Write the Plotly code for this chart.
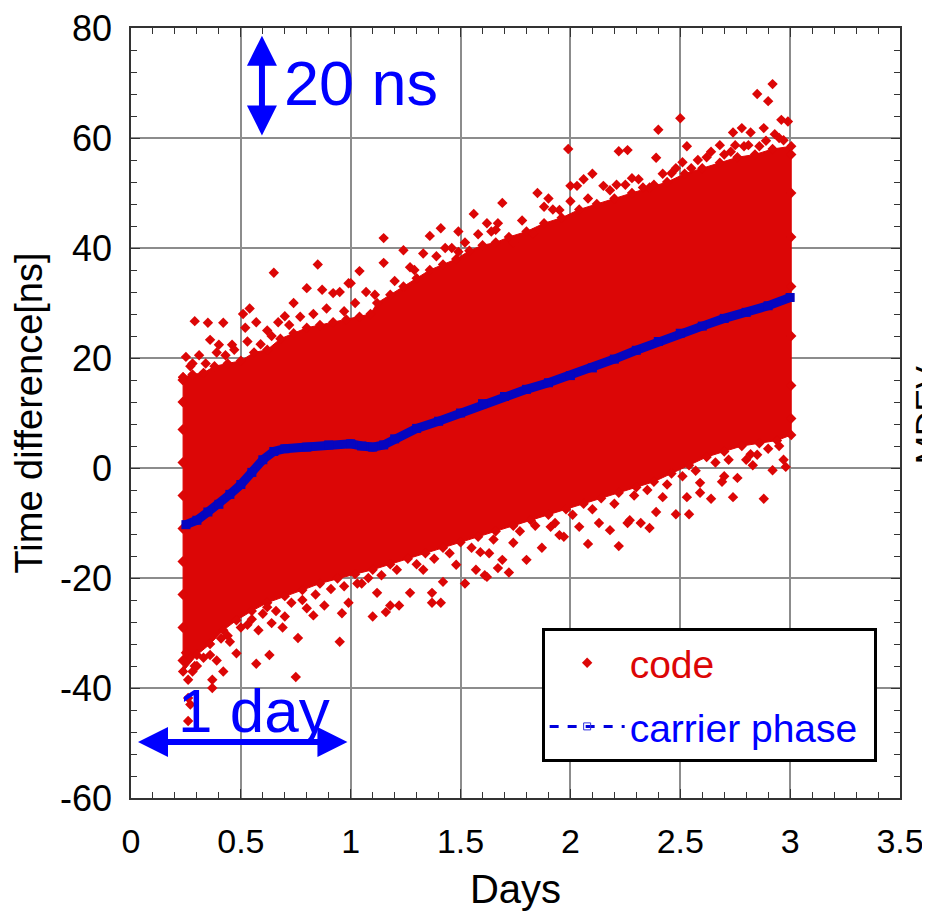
import plotly.graph_objects as go

# ---------------- data ----------------
# carrier phase curve (days, ns)
cp_days = [0.25, 0.30, 0.35, 0.40, 0.45, 0.50, 0.55, 0.60, 0.65, 0.70, 0.80, 0.90,
           1.00, 1.05, 1.10, 1.15, 1.20, 1.30, 1.40, 1.50, 1.60, 1.70, 1.80, 1.90,
           2.00, 2.10, 2.20, 2.30, 2.40, 2.50, 2.60, 2.70, 2.80, 2.90, 3.00]
cp_ns = [-10.3, -9.5, -8.0, -6.6, -4.8, -3.0, -0.8, 1.5, 3.0, 3.5, 3.8, 4.2,
         4.4, 4.0, 3.8, 4.2, 5.3, 7.2, 8.5, 10.0, 11.7, 13.0, 14.3, 15.5,
         16.8, 18.2, 19.8, 21.4, 23.0, 24.5, 25.8, 27.2, 28.3, 29.5, 31.0]

# code: outline of the dense cloud of points (upper edge, left to right)
code_up_days = [0.237, 0.28, 0.33, 0.38, 0.44, 0.50, 0.56, 0.62, 0.68, 0.74, 0.80, 0.86,
                0.92, 0.98, 1.04, 1.09, 1.12, 1.18, 1.24, 1.30, 1.36, 1.42, 1.48, 1.54,
                1.60, 1.66, 1.72, 1.80, 1.88, 1.96, 2.04, 2.12, 2.20, 2.28, 2.36, 2.44,
                2.52, 2.60, 2.68, 2.76, 2.84, 2.92, 3.005]
code_up_ns = [16.5, 17.0, 17.3, 18.5, 19.0, 19.5, 21.0, 21.5, 23.5, 24.5, 25.5, 26.0,
              26.5, 27.0, 27.5, 28.0, 30.0, 31.5, 33.0, 34.5, 36.0, 37.0, 38.0, 39.5,
              40.5, 41.0, 42.0, 43.0, 44.5, 45.5, 47.0, 48.0, 49.0, 50.0, 51.0, 52.0,
              53.5, 54.5, 55.5, 56.5, 57.0, 58.0, 58.5]
# lower edge, right to left
code_lo_days = [3.005, 2.94, 2.86, 2.78, 2.70, 2.62, 2.54, 2.46, 2.38, 2.30, 2.22, 2.14,
                2.06, 1.98, 1.90, 1.82, 1.74, 1.66, 1.58, 1.50, 1.42, 1.34, 1.26, 1.18,
                1.10, 1.02, 0.94, 0.86, 0.78, 0.70, 0.62, 0.55, 0.48, 0.42, 0.36, 0.30, 0.237]
code_lo_ns = [6.0, 5.0, 4.5, 4.0, 3.0, 2.0, 0.5, -1.0, -2.5, -3.5, -4.5, -5.5,
              -6.5, -7.5, -8.5, -9.5, -10.5, -11.5, -12.5, -13.5, -14.5, -15.5, -16.5, -17.5,
              -18.5, -19.3, -20.1, -21.0, -22.2, -23.3, -24.5, -26.0, -27.7, -29.5, -32.0, -34.0, -37.0]

# code: individual scattered points around the cloud
code_pt_days = [
    # upper outliers
    0.29, 0.35, 0.42, 0.51, 0.54, 0.65, 0.85, 1.04, 1.15, 1.36, 1.41, 1.49, 1.56, 1.62,
    1.69, 1.85, 1.90, 1.99, 2.00, 2.06, 2.10, 2.22, 2.26, 2.28, 2.39, 2.40, 2.50, 2.53,
    2.68, 2.74, 2.78, 2.82, 2.85, 2.88, 2.90, 2.92, 2.96, 2.99,
    # upper edge
    0.25, 0.28, 0.36, 0.40, 0.46, 0.52, 0.57, 0.62, 0.70, 0.74, 0.80, 0.87, 0.92, 0.95,
    0.99, 1.07, 1.15, 1.24, 1.27, 1.00, 1.33, 1.43, 1.49, 1.66, 1.67, 1.74, 1.83, 1.88,
    1.95, 2.03, 2.15, 2.21, 2.33, 2.38, 2.46, 2.51, 2.55, 2.64, 2.70, 2.75, 2.81, 2.86,
    2.93, 2.97,
    # upper edge, inner ring
    0.27, 0.31, 0.34, 0.39, 0.43, 0.47, 0.53, 0.59, 0.64, 0.67, 0.72, 0.77, 0.83, 0.89,
    0.97, 1.02, 1.11, 1.20, 1.29, 1.39, 1.46, 1.52, 1.58, 1.64, 1.78, 1.92, 2.00, 2.08,
    2.18, 2.25, 2.31, 2.42, 2.48, 2.58, 2.62, 2.73, 2.79, 2.89, 2.95,
    # lower outliers
    0.26, 0.27, 0.26, 0.37, 0.37, 0.42, 0.48, 0.57, 0.63, 0.75, 0.76, 0.95, 0.69, 0.58,
    0.83, 0.96, 1.10, 1.16, 1.22, 1.37, 1.41, 1.37, 1.52, 1.61, 1.62, 1.57, 1.72, 1.67,
    1.80, 1.87, 1.95, 2.08, 2.22, 2.27, 2.36, 2.48, 2.54, 2.59, 2.64, 2.74, 2.88, 2.92,
    2.98, 2.83, 2.70,
    # lower edge
    0.25, 0.28, 0.30, 0.39, 0.45, 0.53, 0.62, 0.64, 0.70, 0.80, 0.88, 0.99, 1.05, 1.12,
    1.18, 1.27, 1.33, 1.42, 1.48, 1.59, 1.63, 1.69, 1.74, 1.91, 1.97, 2.04, 2.13, 2.18,
    2.26, 2.32, 2.39, 2.42, 2.53, 2.59, 2.69, 2.76, 2.80, 2.85, 2.97,
    # lower edge, inner ring
    0.26, 0.29, 0.33, 0.36, 0.41, 0.44, 0.50, 0.55, 0.60, 0.66, 0.73, 0.78, 0.84, 0.91,
    0.97, 1.03, 1.08, 1.14, 1.21, 1.30, 1.38, 1.45, 1.55, 1.65, 1.77, 1.84, 1.93, 2.01,
    2.10, 2.20, 2.29, 2.35, 2.44, 2.51, 2.57, 2.66, 2.72, 2.82, 2.90, 2.95,
    # left and right edges
    0.235, 0.235, 0.235, 0.235, 0.235, 0.235, 0.235, 0.235, 0.235, 0.235,
    3.005, 3.005, 3.005, 3.005, 3.005, 3.005, 3.005,
]
code_pt_ns = [
    26.7, 26.4, 26.4, 28.0, 29.0, 35.5, 37.0, 35.8, 41.8, 42.2, 43.6, 43.0, 46.2, 44.5,
    48.2, 50.0, 49.0, 58.0, 51.3, 52.5, 53.5, 57.6, 57.8, 52.7, 56.4, 61.5, 63.6, 58.5,
    58.7, 61.0, 61.8, 61.0, 68.0, 61.8, 66.7, 69.8, 63.3, 63.0,
    20.2, 19.0, 23.3, 22.4, 22.4, 25.5, 26.5, 25.0, 27.6, 30.0, 32.7, 32.4, 31.8, 32.0,
    33.6, 32.0, 37.3, 39.6, 36.5, 33.6, 39.0, 40.0, 39.3, 43.3, 44.5, 41.0, 42.7, 47.5,
    46.9, 51.3, 51.3, 51.5, 51.0, 51.5, 53.6, 55.6, 54.5, 57.5, 57.0, 58.7, 58.7, 58.5,
    60.7, 59.6,
    18.5, 20.5, 19.0, 21.0, 20.5, 21.5, 23.0, 22.5, 24.0, 26.5, 26.0, 27.5, 28.0, 29.0,
    28.5, 30.0, 31.5, 34.0, 36.0, 38.5, 40.0, 41.0, 42.5, 43.0, 45.0, 47.0, 48.5, 49.0,
    50.5, 51.5, 52.5, 53.5, 54.5, 56.0, 56.5, 57.5, 58.5, 59.5, 60.0,
    -46.0, -43.0, -41.8, -40.0, -38.5, -37.0, -33.7, -35.6, -34.0, -38.0, -30.9, -31.6, -29.0, -29.5,
    -26.8, -26.4, -27.0, -26.2, -25.0, -24.5, -24.5, -22.7, -21.0, -19.5, -19.8, -18.5, -19.0, -18.2,
    -16.7, -14.5, -12.2, -13.8, -14.2, -9.5, -10.9, -8.4, -8.4, -4.5, -5.6, -5.3, -5.6, -0.4,
    0.2, 0.5, -1.5,
    -33.6, -37.0, -36.0, -35.0, -31.6, -28.5, -25.3, -28.2, -27.0, -25.5, -25.0, -24.5, -21.0, -22.7,
    -25.0, -22.7, -18.5, -20.7, -17.6, -15.3, -15.5, -16.7, -13.6, -10.7, -12.5, -10.7, -10.0, -11.3,
    -10.0, -10.0, -8.0, -5.3, -5.3, -2.7, -2.5, -1.8, 1.5, 2.4, 1.5,
    -38.5, -36.0, -34.5, -34.0, -31.0, -30.5, -29.0, -27.5, -26.5, -26.0, -24.5, -24.0, -23.0, -22.0,
    -21.5, -21.0, -20.0, -19.5, -18.5, -17.5, -16.5, -15.5, -14.5, -13.0, -11.5, -10.5, -10.0, -8.5,
    -7.5, -6.5, -5.0, -4.0, -3.0, -1.5, -0.5, 1.0, 1.5, 2.5, 3.5, 4.0,
    16.0, 12.0, 7.0, 1.0, -5.0, -11.0, -17.0, -23.0, -29.0, -35.0,
    57.0, 50.0, 42.0, 33.0, 24.0, 15.0, 9.0,
]

x_ticks = [0, 0.5, 1, 1.5, 2, 2.5, 3, 3.5]
x_labels = ["0", "0.5", "1", "1.5", "2", "2.5", "3", "3.5"]
y_ticks = [-60, -40, -20, 0, 20, 40, 60, 80]
y_labels = ["-60", "-40", "-20", "0", "20", "40", "60", "80"]

# ---------------- styles ----------------
RED = "#dc0606"
BAND = "#0606c0"
BLUE = "#0000ff"
FONT = "Liberation Sans, Arial, sans-serif"

fig = go.Figure()

# dense cloud outline
fig.add_trace(go.Scatter(
    x=code_up_days + code_lo_days + [code_up_days[0]],
    y=code_up_ns + code_lo_ns + [code_up_ns[0]],
    mode="lines+markers", fill="toself", fillcolor=RED,
    line=dict(color=RED, width=1),
    marker=dict(symbol="diamond", size=8, color=RED),
    showlegend=False, hoverinfo="skip"))

# scattered code points
fig.add_trace(go.Scatter(
    x=code_pt_days, y=code_pt_ns, mode="markers",
    marker=dict(symbol="diamond", size=8, color=RED),
    name="<span style='color:%s'>code</span>" % RED,
    legendgroup="a"))

# carrier phase (legend style: dashed with open squares)
fig.add_trace(go.Scatter(
    x=cp_days, y=cp_ns, mode="lines+markers",
    line=dict(color="#0000dd", width=3, dash="dash"),
    marker=dict(symbol="square-open", size=7, color="#3030dd", line=dict(width=1)),
    name="<span style='color:%s'>carrier phase&nbsp;</span>" % BLUE,
    legendgroup="b"))

# carrier phase thick band on top
fig.add_trace(go.Scatter(
    x=cp_days, y=cp_ns, mode="lines+markers",
    line=dict(color=BAND, width=9),
    marker=dict(symbol="square", size=9, color=BAND),
    showlegend=False, hoverinfo="skip"))

axis_common = dict(
    showgrid=True, gridcolor="#8c8c8c", gridwidth=1.5,
    showline=True, linecolor="#333333", linewidth=1.5, mirror="ticks",
    ticks="inside", ticklen=9, tickwidth=1.2, tickcolor="#333333",
    zeroline=False, automargin=False, ticklabeloverflow="allow",
)

fig.update_xaxes(
    range=[0, 3.5], tickvals=x_ticks, ticktext=x_labels,
    minor=dict(dtick=0.1, ticks="inside", ticklen=6, tickcolor="#333333", showgrid=False),
    tickfont=dict(family=FONT, size=34, color="black"),
    ticklabelstandoff=12,
    title=dict(text="Days", font=dict(family=FONT, size=40, color="black"), standoff=16),
    **axis_common)
fig.update_yaxes(
    range=[-60, 80], tickvals=y_ticks, ticktext=y_labels,
    minor=dict(dtick=4, ticks="inside", ticklen=6, tickcolor="#333333", showgrid=False),
    tickfont=dict(family=FONT, size=36, color="black"),
    ticklabelstandoff=10,
    title=dict(text="Time difference[ns]", font=dict(family=FONT, size=38, color="black"), standoff=16),
    **axis_common)

# annotations: "20 ns" with vertical double arrow, "1 day" with horizontal double arrow
fig.add_annotation(x=0.596, y=78.6, ax=0.596, ay=60.2, xref="x", yref="y", axref="x", ayref="y",
                   text="", showarrow=True, arrowhead=2, startarrowhead=2, arrowside="end+start",
                   arrowsize=1, startarrowsize=1, arrowwidth=6, arrowcolor=BLUE, standoff=0, startstandoff=0)
fig.add_annotation(x=0.685, y=70.0, xref="x", yref="y", text="20 ns", showarrow=False,
                   xanchor="left", yanchor="middle", font=dict(family=FONT, size=63, color=BLUE))
fig.add_annotation(x=0.985, y=-49.8, ax=0.025, ay=-49.8, xref="x", yref="y", axref="x", ayref="y",
                   text="", showarrow=True, arrowhead=2, startarrowhead=2, arrowside="end+start",
                   arrowsize=1, startarrowsize=1, arrowwidth=6, arrowcolor=BLUE, standoff=0, startstandoff=0)
fig.add_annotation(x=0.56, y=-44.0, xref="x", yref="y", text="1 day", showarrow=False,
                   xanchor="center", yanchor="middle", font=dict(family=FONT, size=62, color=BLUE))

# clipped title of the neighbouring chart at the right edge
fig.add_annotation(x=1.0, y=0.497, xref="paper", yref="paper", xshift=6, text="MDEV",
                   textangle=-90, showarrow=False, xanchor="left", yanchor="middle",
                   font=dict(family=FONT, size=34, color="black"))

fig.update_layout(
    width=922, height=903,
    margin=dict(l=123, r=30, t=20, b=113),
    paper_bgcolor="white", plot_bgcolor="white",
    font=dict(family=FONT),
    showlegend=True,
    legend=dict(x=0.534, y=0.221, xanchor="left", yanchor="top",
                bgcolor="white", bordercolor="black", borderwidth=3,
                font=dict(family=FONT, size=39), itemwidth=75, tracegroupgap=10,
                traceorder="grouped"),
)

fig.write_html("out.html")
